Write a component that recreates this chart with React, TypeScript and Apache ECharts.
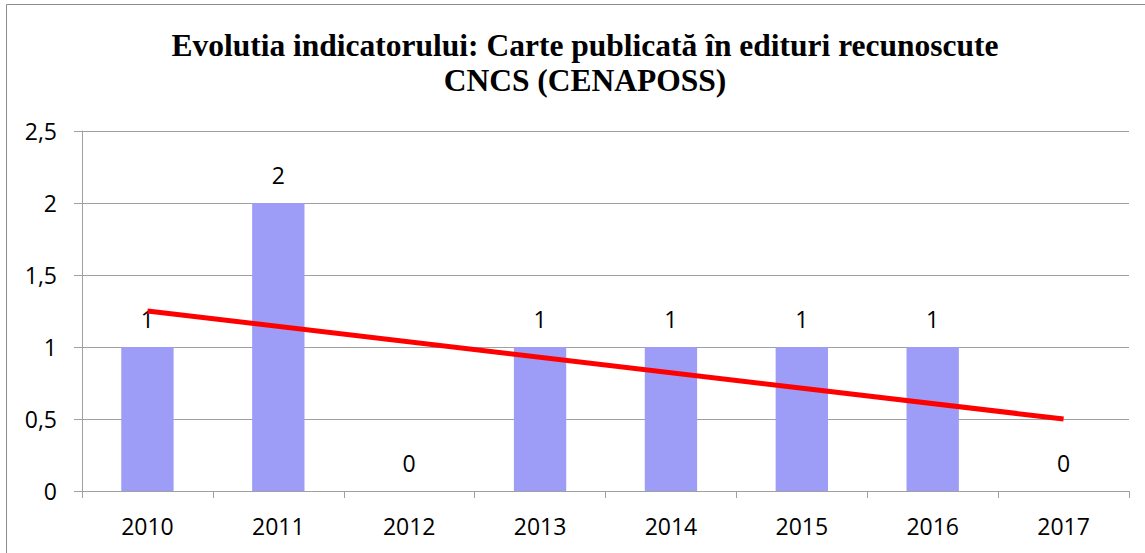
import React, { useEffect, useRef } from "react";
import * as echarts from "echarts";

const categories = ["2010", "2011", "2012", "2013", "2014", "2015", "2016", "2017"];
const values = [1, 2, 0, 1, 1, 1, 1, 0];
// linear trend line as drawn in the reference (start at 2010, end at 2017)
const trendValues = [1.25, null, null, null, null, null, null, 0.5];
const titleLines = ["Evolutia indicatorului: Carte publicată în edituri recunoscute", "CNCS (CENAPOSS)"];

const labelFont = "'Open Sans', sans-serif";

export default function App() {
  const ref = useRef<HTMLDivElement>(null);
  useEffect(() => {
    if (!ref.current) return;
    const chart = echarts.init(ref.current, null, { renderer: "svg" });
    chart.setOption({
      animation: false,
      backgroundColor: "#ffffff",
      title: {
        text: titleLines.join("\n"),
        left: 580,
        textAlign: "center",
        top: 23,
        textStyle: {
          fontFamily: "'Liberation Serif', 'Times New Roman', serif",
          fontWeight: "bold",
          fontSize: 31.5,
          lineHeight: 35,
          color: "#000",
        },
      },
      graphic: [
        {
          type: "rect",
          shape: { x: 6.5, y: 4.5, width: 1145, height: 600 },
          style: { fill: "none", stroke: "#8c8c8c", lineWidth: 1 },
          silent: true,
        },
      ],
      grid: { left: 82, right: 16, top: 131, bottom: 62 },
      xAxis: {
        type: "category",
        data: categories,
        axisLine: { show: true, lineStyle: { color: "#a0a0a0", width: 1 } },
        axisTick: { show: true, length: 7, lineStyle: { color: "#a0a0a0" } },
        axisLabel: { fontFamily: labelFont, fontSize: 23, color: "#000", margin: 23 },
      },
      yAxis: {
        type: "value",
        min: 0,
        max: 2.5,
        interval: 0.5,
        axisLine: { show: true, lineStyle: { color: "#a0a0a0", width: 1 } },
        axisTick: { show: true, length: 8, lineStyle: { color: "#a0a0a0" } },
        splitLine: { show: true, lineStyle: { color: "#a0a0a0", width: 1 } },
        axisLabel: {
          fontFamily: labelFont,
          fontSize: 23,
          color: "#000",
          margin: 25,
          formatter: (v: number) => String(v).replace(".", ","),
        },
      },
      series: [
        {
          type: "bar",
          data: values,
          barWidth: "40%",
          itemStyle: { color: "#9d9df8" },
          label: {
            show: true,
            position: "top",
            distance: 17,
            fontFamily: labelFont,
            fontSize: 23,
            color: "#000",
          },
        },
        {
          type: "line",
          data: trendValues,
          connectNulls: true,
          symbol: "none",
          lineStyle: { color: "#ff0000", width: 5 },
          z: 5,
        },
      ],
    });
    return () => chart.dispose();
  }, []);
  return (
    <div
      ref={ref}
      style={{ position: "fixed", left: 0, top: 0, width: 1145, height: 553 }}
    />
  );
}
